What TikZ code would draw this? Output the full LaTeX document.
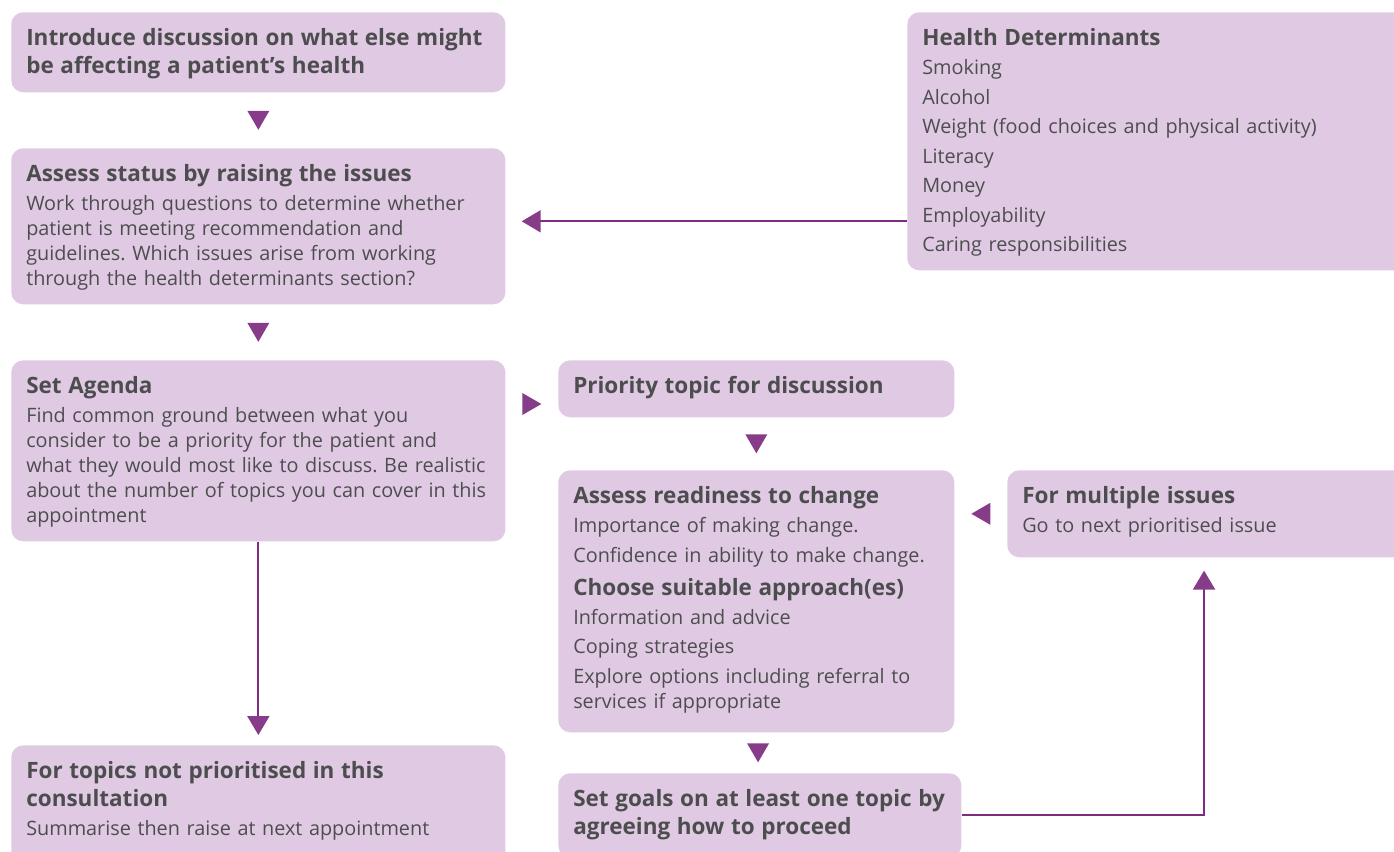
\documentclass[tikz,border=0pt]{standalone}
\usepackage{fontspec}
\setmainfont{Open Sans}
\usetikzlibrary{calc,arrows.meta}
\definecolor{boxfill}{HTML}{E0CAE3}
\definecolor{tipcol}{HTML}{873C8A}
\definecolor{linecol}{HTML}{7E2C80}
\definecolor{txtcol}{HTML}{4D4D4F}
\newcommand{\hdfont}{\fontsize{16}{20}\selectfont\bfseries}
\newcommand{\bdfont}{\fontsize{14.1}{17.8}\selectfont}
\newcommand{\hd}[1]{{\hdfont #1\par}\vspace{3pt}}
\newcommand{\tridown}[1]{\fill[tipcol] #1 +(-11,-9.5) -- +(11,-9.5) -- +(0,9.5) -- cycle;}
\newcommand{\triright}[1]{\fill[tipcol] #1 +(-9.5,-11) -- +(9.5,0) -- +(-9.5,11) -- cycle;}
\newcommand{\trileft}[1]{\fill[tipcol] #1 +(9.5,-11) -- +(-9.5,0) -- +(9.5,11) -- cycle;}
\frenchspacing
\begin{document}
\begin{tikzpicture}[x=0.025cm, y=-0.025cm,
    box/.style={fill=boxfill, rounded corners=0.3cm, anchor=north west, inner sep=0pt},
    txt/.style={anchor=north west, inner sep=0pt, align=left, text width=13cm, text=txtcol, font=\bdfont},
    link/.style={draw=linecol, line width=1.4pt, -{Triangle[width=0.55cm,length=0.475cm,color=tipcol]}}]
    \useasboundingbox (0,0) rectangle (1394,851);

    \node[box, minimum width=12.35cm, minimum height=2cm] (intro) at (11,12) {};
    \node[box, minimum width=12.35cm, minimum height=3.9cm] (status) at (11,148) {};
    \node[box, minimum width=12.825cm, minimum height=6.45cm] (hd) at (907,12) {};
    \node[box, minimum width=12.35cm, minimum height=4.525cm] (agenda) at (11,360) {};
    \node[box, minimum width=9.9cm, minimum height=1.425cm] (prio) at (558,360) {};
    \node[box, minimum width=9.9cm, minimum height=6.55cm] (ready) at (558,470) {};
    \node[box, minimum width=10.325cm, minimum height=2.175cm] (multi) at (1007,470) {};
    \node[box, minimum width=12.35cm, minimum height=3.125cm] (notprio) at (11,745) {};
    \node[box, minimum width=10.075cm, minimum height=2.1cm] (goals) at (558,773) {};

    \node[txt] (intro-t) at ([shift={(15,16)}]intro.north west)
        {\hd{Introduce discussion on what else might\\ be affecting a patient’s health}};
    \node[txt] (status-t) at ([shift={(15,16)}]status.north west)
        {\hd{Assess status by raising the issues}
        Work through questions to determine whether\\ patient is meeting recommendation and\\
        guidelines. Which issues arise from working\\ through the health determinants section?};
    \node[txt] (hd-t) at ([shift={(15,16)}]hd.north west)
        {\hd{Health Determinants}
        Smoking\\[3.2pt] Alcohol\\[3.2pt] Weight (food choices and physical activity)\\[3.2pt]
        Literacy\\[3.2pt] Money\\[3.2pt] Employability\\[3.2pt] Caring responsibilities};
    \node[txt] (agenda-t) at ([shift={(15,16)}]agenda.north west)
        {\hd{Set Agenda}
        Find common ground between what you\\ consider to be a priority for the patient and\\
        what they would most like to discuss. Be realistic\\ about the number of topics you can cover in this\\
        appointment};
    \node[txt] (prio-t) at ([shift={(15,16)}]prio.north west)
        {\hd{Priority topic for discussion}};
    \node[txt] (ready-t) at ([shift={(15,16)}]ready.north west)
        {\hd{Assess readiness to change}
        Importance of making change.\\[3.2pt] Confidence in ability to make change.\par\vspace{3.5pt}
        \hd{Choose suitable approach(es)}
        Information and advice\\[3.2pt] Coping strategies\\[3.2pt]
        Explore options including referral to\\ services if appropriate};
    \node[txt] (multi-t) at ([shift={(15,16)}]multi.north west)
        {\hd{For multiple issues}
        Go to next prioritised issue};
    \node[txt] (notprio-t) at ([shift={(15,16)}]notprio.north west)
        {\hd{For topics not prioritised in this\\ consultation}
        Summarise then raise at next appointment};
    \node[txt] (goals-t) at ([shift={(15,16)}]goals.north west)
        {\hd{Set goals on at least one topic by\\ agreeing how to proceed}};

    \tridown{($(intro.south)!0.5!(status.north)$)}
    \tridown{($(status.south)!0.5!(agenda.north)$)}
    \triright{($(agenda.north east)!0.5!(prio.north west)+(0,44)$)}
    \tridown{($(prio.south)!0.5!(ready.north)$)}
    \trileft{($(ready.east |- multi.west)!0.5!(multi.west)$)}
    \tridown{($(ready.south)!0.5!(goals.north)$)}

    \coordinate (hdin) at ([yshift=0.125cm]status.east);
    \coordinate (multiin) at ([xshift=4.925cm]multi.south west);
    \draw[link, shorten >=0.4cm] (hd.west |- hdin) -- (hdin);
    \draw[link, shorten >=0.25cm] (agenda.south) -- (notprio.north);
    \draw[link, shorten >=0.325cm] (goals.east) -| (multiin);
\end{tikzpicture}
\end{document}
